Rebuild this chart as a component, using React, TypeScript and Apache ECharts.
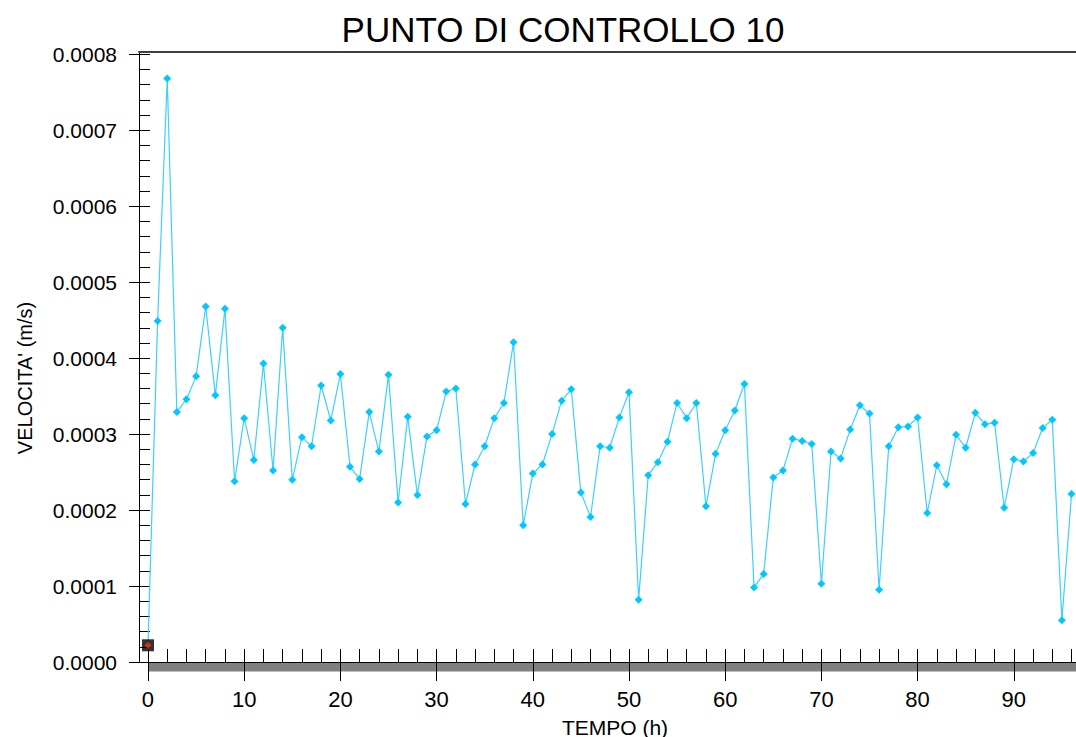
import React, { useEffect, useRef } from "react";
import * as echarts from "echarts";

// Time steps (h)
const hours = [
  0, 1, 2, 3, 4, 5, 6, 7, 8, 9, 10, 11, 12, 13, 14, 15, 16, 17, 18, 19,
  20, 21, 22, 23, 24, 25, 26, 27, 28, 29, 30, 31, 32, 33, 34, 35, 36, 37, 38, 39,
  40, 41, 42, 43, 44, 45, 46, 47, 48, 49, 50, 51, 52, 53, 54, 55, 56, 57, 58, 59,
  60, 61, 62, 63, 64, 65, 66, 67, 68, 69, 70, 71, 72, 73, 74, 75, 76, 77, 78, 79,
  80, 81, 82, 83, 84, 85, 86, 87, 88, 89, 90, 91, 92, 93, 94, 95, 96,
];

// Velocity at control point 10 (m/s)
const velocity = [
  0.000022, 0.000449, 0.000768, 0.000329, 0.000346, 0.000376, 0.000468, 0.000351, 0.000465, 0.000238,
  0.000321, 0.000266, 0.000393, 0.000252, 0.00044, 0.00024, 0.000296, 0.000284, 0.000364, 0.000318,
  0.000379, 0.000257, 0.000241, 0.000329, 0.000277, 0.000378, 0.00021, 0.000323, 0.00022, 0.000297,
  0.000305, 0.000356, 0.00036, 0.000208, 0.00026, 0.000284, 0.000321, 0.000341, 0.000421, 0.00018,
  0.000248, 0.00026, 0.0003, 0.000344, 0.000359, 0.000223, 0.000191, 0.000284, 0.000282, 0.000322,
  0.000355, 0.000082, 0.000246, 0.000263, 0.00029, 0.000341, 0.000321, 0.000341, 0.000205, 0.000274,
  0.000305, 0.000331, 0.000366, 0.000098, 0.000116, 0.000243, 0.000252, 0.000294, 0.000291, 0.000287,
  0.000103, 0.000277, 0.000268, 0.000306, 0.000338, 0.000327, 0.000095, 0.000284, 0.000309, 0.00031,
  0.000322, 0.000196, 0.000259, 0.000234, 0.000299, 0.000282, 0.000328, 0.000313, 0.000315, 0.000203,
  0.000267, 0.000264, 0.000275, 0.000308, 0.000319, 0.000055, 0.000221,
];

// Tick values
const xMajorTicks = [0, 10, 20, 30, 40, 50, 60, 70, 80, 90];
const xMinorTicks = [
  0, 2, 4, 6, 8, 10, 12, 14, 16, 18, 20, 22, 24, 26, 28, 30, 32, 34, 36, 38, 40, 42, 44, 46, 48, 50,
  52, 54, 56, 58, 60, 62, 64, 66, 68, 70, 72, 74, 76, 78, 80, 82, 84, 86, 88, 90, 92, 94, 96, 98, 100,
];
const yMajorTicks = [0, 0.0001, 0.0002, 0.0003, 0.0004, 0.0005, 0.0006, 0.0007, 0.0008];
const yMinorTicks = [
  0, 0.00002, 0.00004, 0.00006, 0.00008, 0.0001, 0.00012, 0.00014, 0.00016, 0.00018,
  0.0002, 0.00022, 0.00024, 0.00026, 0.00028, 0.0003, 0.00032, 0.00034, 0.00036, 0.00038,
  0.0004, 0.00042, 0.00044, 0.00046, 0.00048, 0.0005, 0.00052, 0.00054, 0.00056, 0.00058,
  0.0006, 0.00062, 0.00064, 0.00066, 0.00068, 0.0007, 0.00072, 0.00074, 0.00076, 0.00078, 0.0008,
];

const FONT = '"Liberation Sans", Arial, Helvetica, sans-serif';
const X_MIN = -0.935;
const X_MAX = 100;
const Y_MAX = 0.000803;

export default function App() {
  const ref = useRef<HTMLDivElement>(null);

  useEffect(() => {
    if (!ref.current) return;
    const chart = echarts.init(ref.current, null, { renderer: "svg" });

    const lineData = hours.map((h, i) =>
      i === 0 ? { value: [h, velocity[i]], symbol: "none" } : [h, velocity[i]]
    );

    const baseX = { type: "value", min: X_MIN, max: X_MAX, splitLine: { show: false } };
    const baseY = { type: "value", min: 0, max: Y_MAX, splitLine: { show: false } };

    chart.setOption({
      animation: false,
      backgroundColor: "#ffffff",
      title: {
        text: "PUNTO DI CONTROLLO 10",
        left: 558,
        top: 7,
        textAlign: "center",
        textStyle: { fontFamily: FONT, fontSize: 35, fontWeight: "normal", color: "#000" },
      },
      grid: { left: 139, top: 52, width: 971, height: 610 },
      xAxis: [
        {
          ...baseX,
          position: "bottom",
          axisLine: { show: true, onZero: false, lineStyle: { color: "#000", width: 1 } },
          axisTick: {
            show: true,
            inside: false,
            length: 19,
            customValues: xMajorTicks,
            lineStyle: { color: "#000", width: 1 },
          },
          axisLabel: {
            show: true,
            customValues: xMajorTicks,
            margin: 26,
            fontFamily: FONT,
            fontSize: 22,
            color: "#000",
            formatter: (v: number) => String(Math.round(v)),
          },
        },
        {
          ...baseX,
          position: "bottom",
          axisLine: { show: false, onZero: false },
          axisTick: {
            show: true,
            inside: true,
            length: 13,
            customValues: xMinorTicks,
            lineStyle: { color: "#000", width: 1 },
          },
          axisLabel: { show: false },
        },
        {
          ...baseX,
          position: "top",
          axisLine: { show: true, onZero: false, lineStyle: { color: "#404040", width: 2 } },
          axisTick: { show: false },
          axisLabel: { show: false },
        },
      ],
      yAxis: [
        {
          ...baseY,
          position: "left",
          axisLine: { show: true, onZero: false, lineStyle: { color: "#000", width: 1 } },
          axisTick: {
            show: true,
            inside: false,
            length: 10,
            customValues: yMajorTicks,
            lineStyle: { color: "#000", width: 1 },
          },
          axisLabel: {
            show: true,
            customValues: yMajorTicks,
            margin: 22,
            fontFamily: FONT,
            fontSize: 21,
            color: "#000",
            formatter: (v: number) => v.toFixed(4),
          },
        },
        {
          ...baseY,
          position: "left",
          axisLine: { show: false, onZero: false },
          axisTick: {
            show: true,
            inside: true,
            length: 11,
            customValues: yMinorTicks,
            lineStyle: { color: "#000", width: 1 },
          },
          axisLabel: { show: false },
        },
      ],
      series: [
        {
          type: "line",
          xAxisIndex: 0,
          yAxisIndex: 0,
          data: lineData,
          symbol: "diamond",
          symbolSize: 8,
          itemStyle: { color: "#00c8ff" },
          lineStyle: { color: "#3ccfff", width: 1.2 },
          z: 2,
        },
        {
          type: "scatter",
          xAxisIndex: 0,
          yAxisIndex: 0,
          data: [[hours[0], velocity[0]]],
          symbol: "rect",
          symbolSize: 12,
          itemStyle: { color: "#000" },
          z: 3,
        },
        {
          type: "scatter",
          xAxisIndex: 0,
          yAxisIndex: 0,
          data: [[hours[0], velocity[0]]],
          symbol: "diamond",
          symbolSize: 7,
          itemStyle: { color: "#ff3300" },
          z: 4,
        },
      ],
    });

    // Grey band under the time axis, starting at t = 0
    const x0 = chart.convertToPixel({ xAxisIndex: 0 }, 0) as number;
    const y0 = chart.convertToPixel({ yAxisIndex: 0 }, 0) as number;
    chart.setOption({
      graphic: [
        {
          type: "rect",
          z: -1,
          shape: { x: x0, y: y0 + 0.5, width: 1200 - x0, height: 9 },
          style: { fill: "#808080" },
        },
        {
          type: "text",
          x: 615,
          y: 727,
          style: {
            text: "TEMPO (h)",
            fontFamily: FONT,
            fontSize: 21,
            fill: "#000",
            align: "center",
            verticalAlign: "middle",
          },
        },
        {
          type: "text",
          x: 25,
          y: 378,
          rotation: Math.PI / 2,
          style: {
            text: "VELOCITA' (m/s)",
            fontFamily: FONT,
            fontSize: 20,
            fill: "#000",
            align: "center",
            verticalAlign: "middle",
          },
        },
      ],
    });

    return () => chart.dispose();
  }, []);

  return (
    <div
      style={{
        position: "fixed",
        left: 0,
        top: 0,
        width: 1076,
        height: 737,
        overflow: "hidden",
        background: "#fff",
      }}
    >
      <div ref={ref} style={{ width: 1130, height: 737 }} />
    </div>
  );
}
